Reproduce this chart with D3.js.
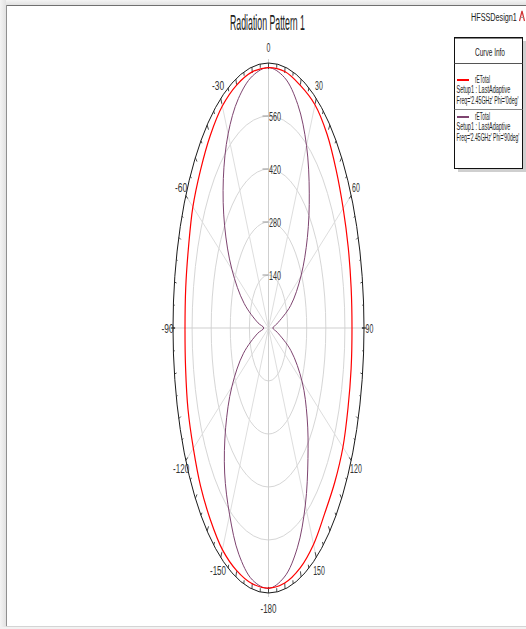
<!DOCTYPE html>
<html><head><meta charset="utf-8">
<script src="https://cdn.jsdelivr.net/npm/d3@7"></script>
<style>
body{margin:0;background:#fff;}
svg{display:block;font-family:"Liberation Sans",Arial,sans-serif;}
</style>
</head><body>
<svg id="c" width="526" height="629"></svg>
<script>
// ---------------- data ----------------
const thetaDeg = d3.range(-180, 181, 10);
// rETotal, Phi = 0deg
const etotalPhi0 = [687,686,682,676,662,650,636,628,617,612,616,624,640,650,664,677,683,687,
                    688,688,682,681,668,648,632,622,615,612,615,620,630,634,640,660,675,684,687];
// rETotal, Phi = 90deg
const etotalPhi90 = [688,676,636,570,500,410,310,195,80,35,78,190,310,420,515,592,645,676,
                     688,672,628,557,465,372,275,172,62,32,65,175,285,370,450,540,618,668,688];
const radialTicks = [140, 280, 420, 560];
const radialMax = 700;
const angleTicks = [0, 30, 60, 90, 120, 150, 180, -150, -120, -90, -60, -30];
const angleTickLabels = ["0","30","60","90","120","150","-180","-150","-120","-90","-60","-30"];
const seriesNames = ["rETotal", "rETotal"];
const seriesSetup = ["Setup1 : LastAdaptive", "Setup1 : LastAdaptive"];
const seriesFreq = ["Freq='2.45GHz' Phi='0deg'", "Freq='2.45GHz' Phi='90deg'"];
const seriesColors = ["#ff0000", "#7e4470"];
const titleText = "Radiation Pattern 1";
const designText = "HFSSDesign1";

// ---------------- layout ----------------
const svg = d3.select("#c");
const cx = 268.5, cy = 328;
const rx = d3.scaleLinear().domain([0, radialMax]).range([0, 95.5]);
const ry = d3.scaleLinear().domain([0, radialMax]).range([0, 265]);
const rad = d => d * Math.PI / 180;
const pt = (a, r) => [cx + rx(r) * Math.sin(rad(a)), cy - ry(r) * Math.cos(rad(a))];

// frame
const defs = svg.append("defs");
const gt = defs.append("linearGradient").attr("id","gtop").attr("x1",0).attr("y1",0).attr("x2",0).attr("y2",1);
gt.append("stop").attr("offset","0").attr("stop-color","#f4f4f4");
gt.append("stop").attr("offset","1").attr("stop-color","#e2e2e2");
const gl = defs.append("linearGradient").attr("id","gleft").attr("x1",0).attr("y1",0).attr("x2",1).attr("y2",0);
gl.append("stop").attr("offset","0").attr("stop-color","#f4f4f4");
gl.append("stop").attr("offset","1").attr("stop-color","#e2e2e2");
svg.append("rect").attr("x",0).attr("y",0).attr("width",526).attr("height",5).attr("fill","url(#gtop)");
svg.append("rect").attr("x",0).attr("y",0).attr("width",6).attr("height",629).attr("fill","url(#gleft)");
svg.append("line").attr("x1",6).attr("x2",526).attr("y1",5.5).attr("y2",5.5).attr("stroke","#707070");
svg.append("line").attr("x1",6.5).attr("x2",6.5).attr("y1",5).attr("y2",627).attr("stroke","#909090");
svg.append("line").attr("x1",6).attr("x2",526).attr("y1",626.5).attr("y2",626.5).attr("stroke","#d4d4d4");
svg.append("rect").attr("x",0).attr("y",627).attr("width",526).attr("height",2).attr("fill","#f2f2f2");

// text helper: horizontally squeezed text of given width
function label(g, s, x, y, size, anchor, width, color) {
  const t = g.append("text").attr("x", 0).attr("y", 0).attr("font-size", size)
    .attr("text-anchor", anchor).attr("fill", color || "#222").text(s);
  const natural = t.node().getComputedTextLength();
  const sx = width ? width / natural : 1;
  t.attr("transform", `translate(${x},${y}) scale(${sx},1)`);
  return t;
}

const grid = svg.append("g");
grid.selectAll("ellipse.g").data(radialTicks).join("ellipse")
  .attr("cx", cx).attr("cy", cy).attr("rx", d => rx(d)).attr("ry", d => ry(d))
  .attr("fill", "none").attr("stroke", "#d6d6d6").attr("stroke-width", 1);
const spokes = [30, 60, 120, 150, -30, -60, -120, -150];
grid.selectAll("line.s").data(spokes).join("line")
  .attr("x1", cx).attr("y1", cy)
  .attr("x2", d => pt(d, radialMax)[0]).attr("y2", d => pt(d, radialMax)[1])
  .attr("stroke", "#dedede").attr("stroke-width", 1);
grid.append("line").attr("x1", cx).attr("x2", cx).attr("y1", cy - ry(radialMax) - 4).attr("y2", cy + ry(radialMax) + 4)
  .attr("stroke", "#cfcfcf");
grid.append("line").attr("x1", cx - rx(radialMax) - 4).attr("x2", cx + rx(radialMax) + 4).attr("y1", cy).attr("y2", cy)
  .attr("stroke", "#cfcfcf");

// outer ring
grid.append("ellipse").attr("cx", cx).attr("cy", cy).attr("rx", rx(radialMax)).attr("ry", ry(radialMax))
  .attr("fill", "none").attr("stroke", "#1a1a1a").attr("stroke-width", 1);
const ringTicks = d3.range(-180, 180, 5);
grid.selectAll("line.t").data(ringTicks).join("line")
  .attr("x1", d => pt(d, radialMax)[0]).attr("y1", d => pt(d, radialMax)[1])
  .attr("x2", d => pt(d, radialMax - (d % 10 === 0 ? 16 : 10))[0])
  .attr("y2", d => pt(d, radialMax - (d % 10 === 0 ? 16 : 10))[1])
  .attr("stroke", "#333").attr("stroke-width", 0.9);
grid.append("line").attr("x1", cx + rx(radialMax) - 2).attr("x2", cx + rx(radialMax) + 2).attr("y1", cy).attr("y2", cy).attr("stroke", "#222");
grid.append("line").attr("x1", cx - rx(radialMax) - 2).attr("x2", cx - rx(radialMax) + 2).attr("y1", cy).attr("y2", cy).attr("stroke", "#222");

// radial tick labels
const rl = svg.append("g");
radialTicks.forEach(v => {
  const y = cy - ry(v);
  rl.append("line").attr("x1", cx - 6).attr("x2", cx).attr("y1", y).attr("y2", y).attr("stroke", "#999");
  label(rl, String(v), cx + 0.5, y + 4.5, 12, "start", 12, "#333");
});

// angle labels
const al = svg.append("g");
angleTicks.forEach((a, i) => {
  const [x, y] = pt(a, 740);
  const s = angleTickLabels[i];
  const w = s.length * 3.9 + (s[0] === "-" ? 0.5 : 0);
  label(al, s, x, y + 4.5, 13, "middle", w, "#333");
});

// curves
const lineGen = d3.line().curve(d3.curveCatmullRomClosed.alpha(0.5));
const seriesData = [etotalPhi0, etotalPhi90];
const plot = svg.append("g");
[1, 0].forEach(k => {
  const pts = thetaDeg.slice(0, -1).map((a, i) => pt(a, seriesData[k][i]));
  plot.append("path").attr("d", lineGen(pts)).attr("fill", "none")
    .attr("stroke", seriesColors[k]).attr("stroke-width", k === 0 ? 1.2 : 1);
});

// title
label(svg, titleText, 267.5, 30, 22, "middle", 75, "#222");
label(svg, designText, 471, 21, 11, "start", 46, "#222");
const logo = svg.append("g");
logo.append("path").attr("d", "M519.5,21 L522,11 L524.5,21").attr("fill", "none").attr("stroke", "#d03030").attr("stroke-width", 1.2);
logo.append("line").attr("x1", 520.5).attr("x2", 523.5).attr("y1", 17.5).attr("y2", 17.5).attr("stroke", "#a0a0a0");

// legend
const lg = svg.append("g");
lg.append("rect").attr("x", 458).attr("y", 41).attr("width", 68).attr("height", 131).attr("fill", "#cfcfcf");
lg.append("rect").attr("x", 454.5).attr("y", 37.5).attr("width", 68).attr("height", 131).attr("fill", "#fff")
  .attr("stroke", "#111").attr("stroke-width", 1);
lg.append("line").attr("x1", 454.5).attr("x2", 522.5).attr("y1", 37.8).attr("y2", 37.8).attr("stroke", "#111").attr("stroke-width", 1.6);
label(lg, "Curve Info", 490, 56, 10, "middle", 30);
lg.append("line").attr("x1", 454.5).attr("x2", 522.5).attr("y1", 63.5).attr("y2", 63.5).attr("stroke", "#555");
const entryY = [80, 117];
seriesNames.forEach((n, k) => {
  const y0 = entryY[k];
  lg.append("line").attr("x1", 457).attr("x2", 469).attr("y1", y0).attr("y2", y0)
    .attr("stroke", seriesColors[k]).attr("stroke-width", 2);
  label(lg, n, 475, y0 + 3, 10, "start", 15);
  label(lg, seriesSetup[k], 456.5, y0 + 13, 10, "start", 54);
  label(lg, seriesFreq[k], 456.5, y0 + 24, 10, "start", k === 0 ? 62 : 63);
});
lg.append("line").attr("x1", 454.5).attr("x2", 522.5).attr("y1", 109.5).attr("y2", 109.5).attr("stroke", "#888");
</script>
</body></html>
